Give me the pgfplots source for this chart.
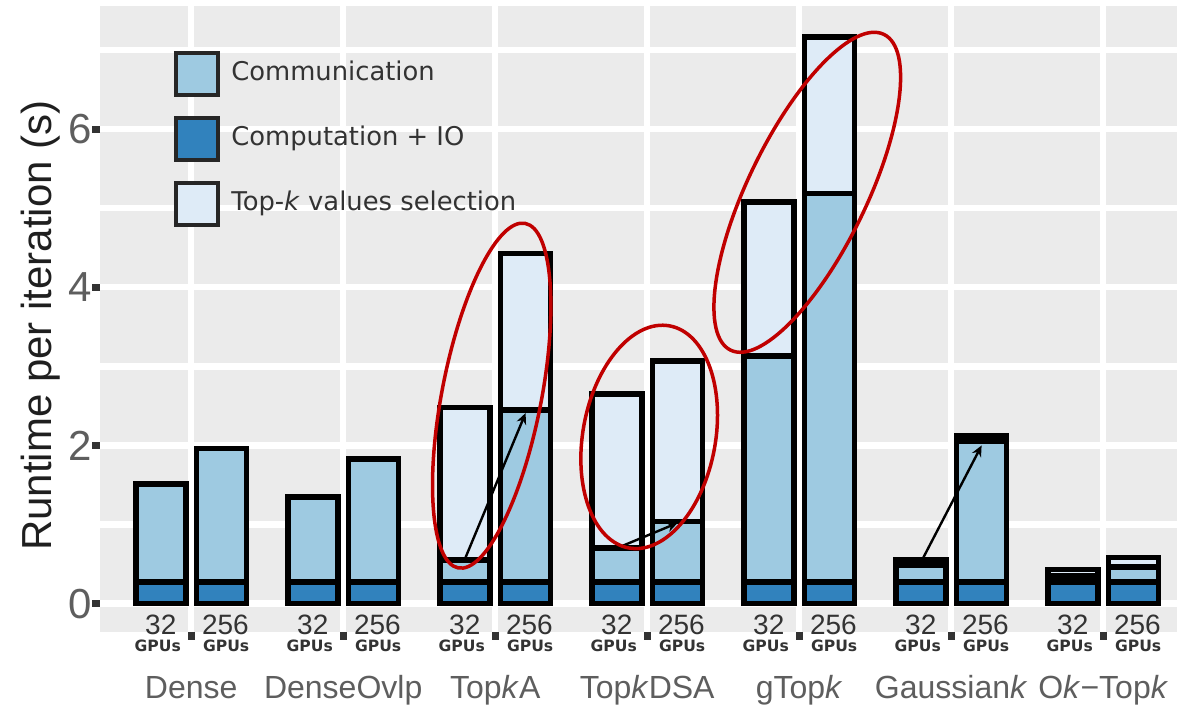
\documentclass[border=0pt]{standalone}
\usepackage{pgfplots}
\pgfplotsset{compat=1.18}
\usepackage{pgfplotstable}
\usepackage{fontspec}
\setmainfont{Liberation Sans}
\newfontfamily\legfont{DejaVu Sans}
\usetikzlibrary{arrows.meta,shapes.geometric}

\definecolor{panel}{HTML}{EBEBEB}
\definecolor{commcol}{HTML}{9ECAE1}
\definecolor{compcol}{HTML}{3182BD}
\definecolor{topkcol}{HTML}{DEEBF7}
\definecolor{ringred}{HTML}{C00000}
\definecolor{ticktext}{HTML}{5E5E5E}
\definecolor{numgray}{HTML}{333333}

% runtime per iteration (s): computation + IO, communication, top-k selection
% x = group index -/+ 0.2 for 32 / 256 GPUs
\pgfplotstableread{
x    comp comm topk
0.8  0.27 1.24 0
1.2  0.27 1.69 0
1.8  0.27 1.08 0
2.2  0.27 1.56 0
2.8  0.27 0.28 1.93
3.2  0.27 2.18 1.98
3.8  0.27 0.43 1.95
4.2  0.27 0.77 2.03
4.8  0.27 2.86 1.95
5.2  0.27 4.92 1.98
5.8  0.27 0.22 0.06
6.2  0.27 1.78 0.07
6.8  0.27 0.08 0.08
7.2  0.27 0.19 0.12
}\runtimes

\pgfplotsset{
  legbox/.style={legend image code/.code={\draw[##1] (0pt,-10.5pt) rectangle (21pt,10.5pt);},
                 draw=black!85, line width=2pt},
  barseg/.style={draw=black, line width=2.8pt, forget plot},
}
\tikzset{
  growth/.style={-{Stealth[length=5.5pt,width=5pt]}, line width=1.2pt},
  ring/.style={draw=ringred, line width=1.75pt, ellipse, inner sep=0pt},
}

% "32 / 256" and "GPUs" under each bar
\newcommand\gpus[3]{%
  \node[anchor=base, font=\fontsize{14}{14}\selectfont, text=numgray, inner sep=0pt] at (axis cs:#1,-0.386) {#3};
  \node[anchor=base, font=\legfont\bfseries\fontsize{7.8}{8}\selectfont, text=numgray, inner sep=0pt] at (axis cs:#2,-0.608) {GPUs};}
\newcommand\grouplabel[2]{%
  \node[anchor=base, font=\fontsize{16}{16}\selectfont, text=ticktext, inner sep=0pt] at (axis cs:#1,-1.196) {#2};}

\begin{document}
\begin{tikzpicture}
\begin{axis}[
  at={(50pt,36.5pt)}, anchor=south west,
  scale only axis, width=547.2pt, height=313pt,
  xmin=0.4, xmax=7.6, ymin=-0.36, ymax=7.56,
  axis background/.style={fill=panel},
  axis line style={draw=none},
  xtick={1,...,7}, xticklabels={},
  ytick={0,2,4,6}, minor ytick={1,3,5,7},
  grid=both,
  major grid style={white, line width=3.1pt},
  minor grid style={white, line width=3.1pt},
  tick align=outside, tick pos=left,
  major tick length=4pt, minor tick length=0pt,
  major tick style={black!80, line width=3.5pt},
  /pgf/number format/assume math mode=true,
  yticklabel style={font=\fontsize{21}{21}\selectfont, text=ticktext, inner sep=0pt},
  ylabel={Runtime per iteration (s)},
  ylabel style={font=\fontsize{21}{25}\selectfont, text=black!88,
                at={(axis description cs:-0.0539,0.4896)}, anchor=center},
  ybar stacked, bar width=0.33,
  clip=false,
  legend cell align=left,
  legend style={at={(0.0676,0.928)}, anchor=north west, draw=none, fill=none,
                inner sep=0pt, row sep=9.4pt,
                font=\legfont\fontsize{12.9}{15}\selectfont, text=black!80,
                nodes={inner sep=0pt, text height=9.5pt, text depth=3pt},
                /tikz/every odd column/.append style={column sep=5.5pt}},
]
\addlegendimage{legbox, fill=commcol}
\addlegendentry{Communication}
\addlegendimage{legbox, fill=compcol}
\addlegendentry{Computation + IO}
\addlegendimage{legbox, fill=topkcol}
\addlegendentry{Top-\textit{k} values selection}

\addplot[barseg, fill=compcol] table[x=x, y=comp] {\runtimes};
\addplot[barseg, fill=commcol] table[x=x, y=comm] {\runtimes};
\addplot[barseg, fill=topkcol] table[x=x, y=topk] {\runtimes};

% anchor points for the annotations drawn over the bars
\coordinate (aAs) at (axis cs:2.8,0.56);  \coordinate (aAe) at (axis cs:3.2,2.41);
\coordinate (aDs) at (axis cs:3.8,0.70);  \coordinate (aDe) at (axis cs:4.2,1.02);
\coordinate (aGs) at (axis cs:5.8,0.52);  \coordinate (aGe) at (axis cs:6.2,2.00);
\coordinate (rA) at (axis cs:2.977,2.63);
\coordinate (rD) at (axis cs:4.013,2.108);
\coordinate (rG) at (axis cs:5.053,5.203);

\gpus{0.8}{0.78}{32}\gpus{1.225}{1.23}{256}
\gpus{1.8}{1.78}{32}\gpus{2.225}{2.23}{256}
\gpus{2.8}{2.78}{32}\gpus{3.225}{3.23}{256}
\gpus{3.8}{3.78}{32}\gpus{4.225}{4.23}{256}
\gpus{4.8}{4.78}{32}\gpus{5.225}{5.23}{256}
\gpus{5.8}{5.78}{32}\gpus{6.225}{6.23}{256}
\gpus{6.8}{6.78}{32}\gpus{7.225}{7.23}{256}

\grouplabel{1}{Dense}
\grouplabel{2}{DenseOvlp}
\grouplabel{3}{Top\textit{k}A}
\grouplabel{4}{Top\textit{k}DSA}
\grouplabel{5}{gTop\textit{k}}
\grouplabel{6}{Gaussian\textit{k}}
\grouplabel{7}{O\textit{k}−Top\textit{k}}
\end{axis}

% communication growth from 32 to 256 GPUs
\draw[growth] (aAs) -- (aAe);
\draw[growth] (aDs) -- (aDe);
\draw[growth] (aGs) -- (aGe);

% highlighted top-k selection cost
\node[ring, minimum width=175.5pt, minimum height=49.7pt, rotate=79]   at (rA) {};
\node[ring, minimum width=112.9pt, minimum height=66.3pt, rotate=79.6] at (rD) {};
\node[ring, minimum width=175.5pt, minimum height=59.2pt, rotate=64.1] at (rG) {};

\pgfresetboundingbox
\useasboundingbox (0,0) rectangle (588.5pt,352.5pt);
\end{tikzpicture}
\end{document}
